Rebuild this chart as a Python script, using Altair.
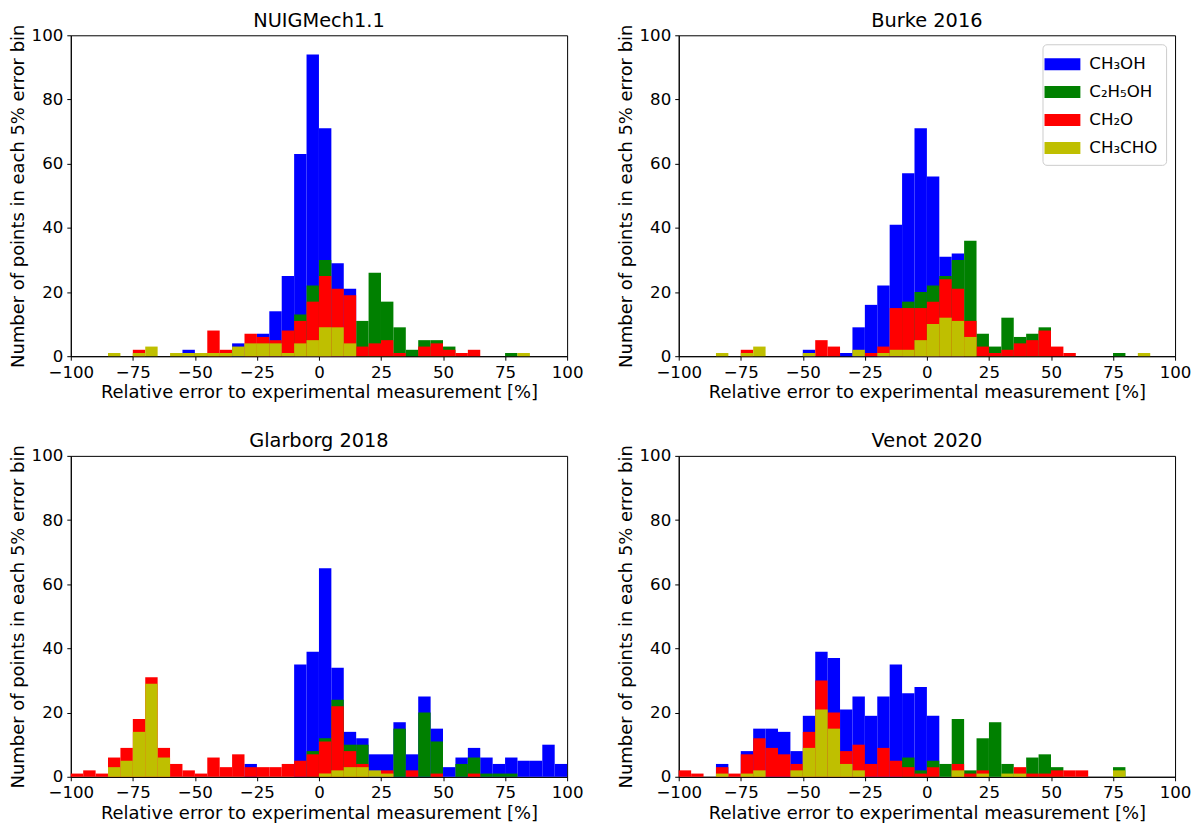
import altair as alt
import pandas as pd

# 5 % error bins from -100 to 100
bin_starts = list(range(-100, 100, 5))

species = ["CH₃OH", "C₂H₅OH", "CH₂O", "CH₃CHO"]
colors = ["#0000ff", "#008000", "#ff0000", "#bfbf00"]
titles = ["NUIGMech1.1", "Burke 2016", "Glarborg 2018", "Venot 2020"]

nuig_ch3oh = [0, 0, 0, 0, 0, 0, 0, 0, 0, 2, 0, 0, 0, 4, 0, 7, 14, 25, 63, 94,
              71, 29, 21, 0, 0, 0, 0, 0, 0, 0, 0, 0, 0, 0, 0, 0, 0, 0, 0, 0]
nuig_c2h5oh = [0, 0, 0, 0, 0, 0, 0, 0, 0, 0, 0, 0, 0, 0, 0, 0, 0, 0, 13, 22,
               30, 0, 0, 11, 26, 17, 9, 2, 5, 5, 3, 0, 0, 0, 0, 1, 0, 0, 0, 0]
nuig_ch2o = [0, 0, 0, 0, 0, 2, 0, 0, 0, 0, 0, 8, 2, 0, 7, 6, 5, 8, 11, 17,
             25, 21, 19, 3, 4, 5, 1, 0, 3, 4, 2, 1, 2, 0, 0, 0, 0, 0, 0, 0]
nuig_ch3cho = [0, 0, 0, 1, 0, 1, 3, 0, 1, 1, 1, 1, 1, 3, 4, 4, 4, 1, 4, 5,
               9, 9, 4, 0, 0, 0, 0, 0, 0, 0, 0, 0, 0, 0, 0, 0, 1, 0, 0, 0]

burke_ch3oh = [0, 0, 0, 0, 0, 0, 0, 0, 0, 0, 2, 0, 0, 1, 9, 16, 22, 41, 57, 71,
               56, 31, 32, 0, 0, 0, 0, 0, 0, 0, 0, 0, 0, 0, 0, 0, 0, 0, 0, 0]
burke_c2h5oh = [0, 0, 0, 0, 0, 0, 0, 0, 0, 0, 0, 0, 0, 0, 0, 0, 0, 0, 17, 20,
                22, 25, 30, 36, 7, 3, 12, 6, 7, 9, 0, 0, 0, 0, 0, 1, 0, 0, 0, 0]
burke_ch2o = [0, 0, 0, 0, 0, 2, 0, 0, 0, 0, 0, 5, 3, 0, 0, 1, 3, 15, 15, 15,
              17, 24, 21, 11, 3, 1, 2, 4, 5, 8, 3, 1, 0, 0, 0, 0, 0, 0, 0, 0]
burke_ch3cho = [0, 0, 0, 1, 0, 1, 3, 0, 0, 0, 1, 0, 0, 0, 2, 0, 1, 2, 2, 5,
                10, 12, 11, 6, 0, 0, 0, 0, 0, 0, 0, 0, 0, 0, 0, 0, 0, 1, 0, 0]

glar_ch3oh = [0, 0, 0, 0, 0, 0, 0, 0, 0, 0, 0, 0, 0, 0, 4, 0, 0, 0, 35, 39,
              65, 34, 14, 12, 7, 7, 17, 7, 25, 15, 3, 6, 9, 6, 4, 6, 5, 5, 10, 4]
glar_c2h5oh = [0, 0, 0, 0, 0, 0, 0, 0, 0, 0, 0, 0, 0, 0, 0, 0, 0, 0, 0, 8,
               12, 24, 10, 10, 0, 0, 15, 0, 20, 11, 0, 4, 6, 1, 1, 1, 0, 0, 0, 0]
glar_ch2o = [1, 2, 1, 6, 9, 18, 31, 9, 4, 2, 1, 6, 3, 7, 3, 3, 3, 4, 5, 7,
             11, 22, 8, 4, 0, 2, 0, 2, 0, 1, 0, 0, 1, 0, 0, 0, 0, 0, 0, 0]
glar_ch3cho = [0, 0, 0, 3, 5, 14, 29, 6, 0, 0, 0, 0, 0, 0, 0, 0, 0, 0, 0, 0,
               1, 2, 3, 3, 2, 1, 0, 0, 0, 0, 0, 0, 0, 0, 0, 0, 0, 0, 0, 0]

venot_ch3oh = [0, 0, 0, 4, 0, 8, 15, 15, 14, 8, 19, 39, 37, 21, 25, 19, 25, 35, 26, 28,
               19, 0, 0, 0, 0, 0, 0, 0, 0, 0, 0, 0, 0, 0, 0, 0, 0, 0, 0, 0]
venot_c2h5oh = [0, 0, 0, 0, 0, 0, 0, 0, 0, 0, 0, 0, 0, 0, 0, 0, 0, 0, 6, 2,
                5, 4, 18, 2, 12, 17, 4, 0, 6, 7, 3, 0, 0, 0, 0, 3, 0, 0, 0, 0]
venot_ch2o = [2, 1, 0, 3, 1, 7, 12, 9, 7, 4, 14, 30, 20, 8, 10, 4, 9, 5, 3, 1,
              3, 0, 4, 1, 2, 0, 0, 3, 1, 1, 2, 2, 2, 0, 0, 0, 0, 0, 0, 0]
venot_ch3cho = [0, 0, 0, 1, 0, 1, 2, 0, 0, 2, 9, 21, 15, 4, 2, 0, 0, 0, 0, 0,
                0, 0, 2, 0, 1, 0, 1, 1, 0, 0, 0, 0, 0, 0, 0, 2, 0, 0, 0, 0]

panels = [
    [nuig_ch3oh, nuig_c2h5oh, nuig_ch2o, nuig_ch3cho],
    [burke_ch3oh, burke_c2h5oh, burke_ch2o, burke_ch3cho],
    [glar_ch3oh, glar_c2h5oh, glar_ch2o, glar_ch3cho],
    [venot_ch3oh, venot_c2h5oh, venot_ch2o, venot_ch3cho],
]

W, H = 498, 322


def make_df(series):
    rows = []
    # drawing order: CH3OH first, CH3CHO last (on top)
    for sp, counts in zip(species, series):
        for start, c in zip(bin_starts, counts):
            if c > 0:
                rows.append({"species": sp, "start": start, "end": start + 5, "count": c})
    return pd.DataFrame(rows)


def panel(series, title, show_legend):
    if show_legend:
        legend = alt.Legend(
            title=None,
            orient="top-right",
            offset=9,
            symbolType="M-1.5,-0.5H1.5V0.5H-1.5Z",
            symbolSize=576,
            symbolStrokeWidth=0,
            symbolOpacity=1,
            labelFontSize=16.7,
            labelColor="black",
            labelOffset=15,
            rowPadding=7,
            padding=8,
            strokeColor="#cccccc",
            fillColor="white",
            cornerRadius=4,
        )
    else:
        legend = None
    return (
        alt.Chart(make_df(series))
        .mark_bar()
        .encode(
            x=alt.X(
                "start:Q",
                scale=alt.Scale(domain=[-100, 100], nice=False),
                axis=alt.Axis(
                    values=list(range(-100, 101, 25)),
                    format="d",
                    labelFlush=False,
                    titlePadding=3,
                    title="Relative error to experimental measurement [%]",
                ),
            ),
            x2="end:Q",
            y=alt.Y(
                "count:Q",
                stack=None,
                scale=alt.Scale(domain=[0, 100], nice=False),
                axis=alt.Axis(
                    values=list(range(0, 101, 20)),
                    labelFlush=False,
                    titlePadding=4,
                    title="Number of points in each 5% error bin",
                ),
            ),
            y2=alt.datum(0),
            color=alt.Color(
                "species:N",
                scale=alt.Scale(domain=species, range=colors),
                legend=legend,
            ),
        )
        .properties(width=W, height=H, title=title)
    )


charts = [panel(s, t, i == 1) for i, (s, t) in enumerate(zip(panels, titles))]

top = alt.hconcat(charts[0], charts[1], spacing=32).resolve_scale(color="independent")
bottom = alt.hconcat(charts[2], charts[3], spacing=32).resolve_scale(color="independent")

chart = (
    alt.vconcat(top, bottom, spacing=27)
    .resolve_scale(color="independent")
    .properties(padding={"left": 0, "top": 0, "right": 0, "bottom": 0})
    .configure(font="DejaVu Sans")
    .configure_view(stroke="black", strokeWidth=1)
    .configure_axis(
        labelFontSize=16.7,
        titleFontSize=18,
        labelColor="black",
        titleColor="black",
        tickColor="black",
        domainColor="black",
        titleFontWeight="normal",
        grid=False,
        tickSize=4,
        labelPadding=4,
    )
    .configure_title(fontSize=19.4, fontWeight="normal", color="black", offset=-7)
)

chart.save("out.html", embed_options={"renderer": "svg", "actions": False})
